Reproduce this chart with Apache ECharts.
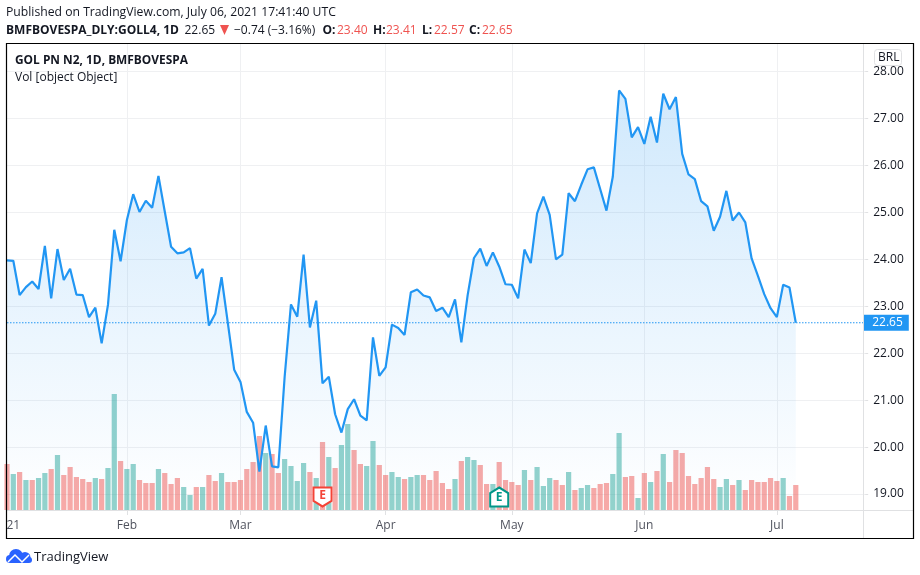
<!DOCTYPE html>
<html>
<head>
<meta charset="utf-8">
<title>GOLL4</title>
<style>
html, body { margin: 0; padding: 0; background: #fff; }
#chart { width: 920px; height: 575px; }
</style>
<script src="https://cdn.jsdelivr.net/npm/echarts@6/dist/echarts.min.js"></script>
</head>
<body>
<div id="chart"></div>
<script>
// trading days of 2021, month-day
var tradingDays = [
    '01-04','01-05','01-06','01-07','01-08','01-11','01-12','01-13','01-14','01-15','01-18','01-19','01-20','01-21','01-22','01-26','01-27','01-28','01-29',
    '02-01','02-02','02-03','02-04','02-05','02-08','02-09','02-10','02-11','02-12','02-17','02-18','02-19','02-22','02-23','02-24','02-25','02-26','03-01',
    '03-02','03-03','03-04','03-05','03-08','03-09','03-10','03-11','03-12','03-15','03-16','03-17','03-18','03-19','03-22','03-23','03-24','03-25','03-26','03-29','03-30','03-31',
    '04-01','04-05','04-06','04-07','04-08','04-09','04-12','04-13','04-14','04-15','04-16','04-19','04-20','04-22','04-23','04-26','04-27','04-28','04-29','04-30',
    '05-03','05-04','05-05','05-06','05-07','05-10','05-11','05-12','05-13','05-14','05-17','05-18','05-19','05-20','05-21','05-24','05-25','05-26','05-27','05-28','05-31',
    '06-01','06-02','06-04','06-07','06-08','06-09','06-10','06-11','06-14','06-15','06-16','06-17','06-18','06-21','06-22','06-23','06-24','06-25','06-28','06-29','06-30',
    '07-01','07-02','07-05','07-06'
];
// empty room on the right of the last bar
var futureDays = ['f1','f2','f3','f4','f5','f6','f7','f8','f9','f10','f11'];
var categories = tradingDays.concat(futureDays);

var closes = [
    23.98,23.97,23.24,23.41,23.53,23.37,24.29,23.17,24.22,23.56,23.80,23.25,23.24,22.77,22.97,22.21,23.03,24.63,23.96,
    24.84,25.39,25.01,25.25,25.10,25.78,25.02,24.27,24.13,24.15,24.24,23.59,23.80,22.59,22.84,23.62,22.64,21.65,21.39,
    20.75,20.52,19.48,20.46,19.59,19.57,21.50,23.04,22.78,24.10,22.55,23.12,21.36,21.50,20.70,20.31,20.81,21.02,20.67,20.57,22.34,21.52,
    21.70,22.61,22.54,22.39,23.30,23.36,23.23,23.19,22.90,22.97,22.77,23.15,22.23,23.24,24.03,24.23,23.86,24.15,23.85,23.47,
    23.46,23.17,24.21,23.92,24.98,25.34,24.95,24.00,24.10,25.41,25.24,25.59,25.92,25.96,25.50,25.04,25.76,27.60,27.42,26.60,26.82,
    26.46,27.04,26.49,27.53,27.20,27.46,26.25,25.81,25.71,25.24,25.13,24.61,24.91,25.46,24.83,25.00,24.79,24.02,23.65,23.26,22.96,
    22.77,23.46,23.40,22.65
];

// volume in millions of shares (estimated)
var volumes = [
    9.2,7.2,7.6,6.0,6.0,6.4,7.4,8.2,11.0,7.0,8.6,6.6,6.2,5.6,6.4,6.2,8.4,23.2,9.8,
    8.2,9.2,6.0,5.4,5.4,8.2,7.4,5.2,6.4,4.6,3.0,4.6,4.6,7.0,5.8,7.4,5.6,5.6,6.0,
    8.2,9.6,14.8,11.4,11.2,7.4,10.2,8.8,5.8,9.4,7.6,6.4,13.6,10.6,8.4,13.0,17.2,12.0,9.2,8.8,13.8,9.0,
    7.0,7.6,6.6,6.2,6.6,7.0,7.0,6.0,7.8,5.4,4.2,6.2,9.8,10.6,10.0,9.0,5.2,5.2,9.6,6.0,
    5.6,5.0,8.0,6.0,8.6,4.8,6.4,6.0,5.0,7.6,4.0,4.4,5.0,4.4,5.2,5.4,7.2,15.4,6.6,6.8,2.4,
    7.4,5.6,7.8,11.2,5.6,12.0,11.4,6.8,5.2,6.4,8.6,6.2,4.6,6.2,5.0,6.0,4.0,6.0,5.6,5.6,6.4,
    5.8,6.4,2.8,5.0
];
// 1 = green bar, 0 = red bar
var volumeUp = [
    0,1,0,1,0,1,1,0,1,0,0,0,0,0,1,0,1,1,0,
    1,1,0,0,0,1,0,0,0,1,1,0,1,0,0,1,0,0,0,
    0,0,0,1,0,0,1,1,1,1,0,1,0,1,0,1,1,0,0,1,1,0,
    0,1,1,0,1,1,0,0,0,0,0,1,0,1,1,0,0,1,0,0,
    0,0,1,0,1,1,1,0,0,1,0,1,1,0,0,0,1,1,0,0,1,
    0,1,0,1,0,0,0,0,0,0,0,0,1,1,0,1,0,0,0,0,0,
    0,1,0,0
];

var priceTicks = [19, 20, 21, 22, 23, 24, 25, 26, 27, 28];
var lastPrice = 22.65;

var monthDays = ['02-01','03-01','04-01','05-03','06-01','07-01'];
var monthTexts = ['Feb','Mar','Apr','May','Jun','Jul'];
// the year label is cut by the frame in the original, only "21" shows
var yearDay = '01-05';
var yearText = '21';

var earningsDown = ['03-18'];
var earningsUp = ['04-29'];

var FONT = '"Open Sans", "Noto Sans", sans-serif';
var TEXT = '#131722';
var RED = '#ef5350';
var BLUE = '#2196f3';
var GRID = '#eff0f2';
var EDGE = '#e0e1e3';
var LOGO = '#2962ff';

var volumeData = volumes.map(function(v, i) {
    return {
        value: v,
        itemStyle: { color: volumeUp[i] ? 'rgba(38,166,154,0.5)' : 'rgba(239,83,80,0.5)' }
    };
});

function isMonth(index, value) {
    return monthDays.indexOf(value) >= 0;
}

function txt(x, y, text, color, weight, size) {
    return {
        type: 'text',
        x: x,
        y: y,
        z: 20,
        style: {
            text: text,
            fill: color || TEXT,
            font: (weight || 'normal') + ' ' + (size || 12) + 'px ' + FONT,
            verticalAlign: 'middle'
        }
    };
}

var myChart = echarts.init(document.getElementById('chart'));

var option = {
    animation: false,
    backgroundColor: '#fff',
    grid: { left: 7, top: 44, width: 858.2, height: 466 },
    xAxis: {
        type: 'category',
        data: categories,
        boundaryGap: false,
        axisLine: { show: false },
        axisTick: { show: true, length: 5, interval: isMonth, lineStyle: { color: EDGE } },
        axisLabel: {
            interval: function(index, value) {
                return isMonth(index, value) || value === yearDay;
            },
            formatter: function(value) {
                if (value === yearDay) return yearText;
                return monthTexts[monthDays.indexOf(value)];
            },
            color: '#50535e',
            fontFamily: FONT,
            fontSize: 12,
            margin: 10,
            hideOverlap: false
        },
        splitLine: { show: true, interval: isMonth, lineStyle: { color: GRID, width: 1 } }
    },
    yAxis: [
        {
            type: 'value',
            position: 'right',
            min: 18.66,
            max: 28.59,
            axisLine: { show: false },
            axisTick: { show: true, length: 3, customValues: priceTicks, lineStyle: { color: EDGE } },
            axisLabel: {
                customValues: priceTicks,
                formatter: function(v) { return v.toFixed(2); },
                color: TEXT,
                fontFamily: FONT,
                fontSize: 12,
                margin: 8,
                padding: [4, 0, 0, 0]
            },
            splitLine: { show: true, lineStyle: { color: GRID, width: 1 } }
        },
        {
            type: 'value',
            min: 0,
            max: 93.2,
            show: false,
            splitLine: { show: false }
        }
    ],
    series: [
        {
            name: 'Vol',
            type: 'bar',
            yAxisIndex: 1,
            barWidth: 5.2,
            data: volumeData
        },
        {
            name: 'GOLL4',
            type: 'line',
            yAxisIndex: 0,
            data: closes,
            symbol: 'none',
            lineStyle: { color: BLUE, width: 2.2 },
            areaStyle: {
                origin: 'start',
                color: new echarts.graphic.LinearGradient(0, 0, 0, 1, [
                    { offset: 0, color: 'rgba(33,150,243,0.30)' },
                    { offset: 1, color: 'rgba(33,150,243,0)' }
                ])
            }
        },
        {
            // last price level, dotted across the plot with its tag on the axis
            name: 'Last',
            type: 'line',
            yAxisIndex: 0,
            data: categories.map(function() { return lastPrice; }),
            symbol: 'none',
            silent: true,
            z: 4,
            lineStyle: { color: BLUE, type: [1.5, 1.5], width: 1 },
            endLabel: {
                show: true,
                distance: -2,
                formatter: lastPrice.toFixed(2),
                backgroundColor: BLUE,
                color: '#fff',
                fontFamily: FONT,
                fontSize: 12,
                padding: [2, 6, 2, 9]
            }
        },
        {
            name: 'Earnings down',
            type: 'scatter',
            yAxisIndex: 1,
            z: 5,
            symbol: 'path://M0 0H19V14L9.5 20L0 14Z',
            symbolSize: [18, 19],
            itemStyle: { color: '#fff', borderColor: '#f44336', borderWidth: 2, opacity: 1 },
            label: { show: true, position: 'inside', formatter: 'E', color: '#f44336', fontFamily: FONT, fontSize: 12, fontWeight: 'bold', offset: [0, -1] },
            data: earningsDown.map(function(d) { return [d, 2.6]; })
        },
        {
            name: 'Earnings up',
            type: 'scatter',
            yAxisIndex: 1,
            z: 5,
            symbol: 'path://M9.5 0L19 6V20H0V6Z',
            symbolSize: [18, 19],
            itemStyle: { color: '#fff', borderColor: '#009688', borderWidth: 2, opacity: 1 },
            label: { show: true, position: 'inside', formatter: 'E', color: '#009688', fontFamily: FONT, fontSize: 12, fontWeight: 'bold', offset: [0, 1] },
            data: earningsUp.map(function(d) { return [d, 2.6]; })
        }
    ],
    graphic: [
        // frame and the two axis separators
        { type: 'line', z: 10, shape: { x1: 7, y1: 510.5, x2: 913, y2: 510.5 }, style: { stroke: EDGE, lineWidth: 1 } },
        { type: 'line', z: 10, shape: { x1: 863.5, y1: 44, x2: 863.5, y2: 538 }, style: { stroke: EDGE, lineWidth: 1 } },
        { type: 'rect', z: 15, shape: { x: 6.5, y: 43.5, width: 907, height: 495 }, style: { fill: 'none', stroke: '#000', lineWidth: 1.2 } },

        // header
        txt(6, 13, 'Published on TradingView.com, July 06, 2021 17:41:40 UTC', TEXT, 'normal', 12.2),
        txt(6, 30.5, 'BMFBOVESPA_DLY:GOLL4, 1D', TEXT, 'bold'),
        txt(184.5, 30.5, '22.65'),
        { type: 'polygon', z: 20, shape: { points: [[220, 25], [229, 25], [224.5, 35]] }, style: { fill: RED } },
        txt(234, 30.5, '\u22120.74 (\u22123.16%)'),
        txt(322.5, 30.5, 'O:', TEXT, 'bold'),
        txt(337, 30.5, '23.40', RED),
        txt(373, 30.5, 'H:', TEXT, 'bold'),
        txt(386, 30.5, '23.41', RED),
        txt(422, 30.5, 'L:', TEXT, 'bold'),
        txt(434, 30.5, '22.57', RED),
        txt(469, 30.5, 'C:', TEXT, 'bold'),
        txt(482, 30.5, '22.65', RED),

        // legend inside the plot
        txt(15, 61, 'GOL PN N2, 1D, BMFBOVESPA', TEXT, 'bold', 11.9),
        txt(15, 78, 'Vol [object Object]'),

        // currency tag
        { type: 'rect', z: 18, shape: { x: 874.5, y: 49.5, width: 27, height: 16, r: 3 }, style: { fill: '#fff', stroke: EDGE, lineWidth: 1 } },
        txt(878, 58, 'BRL'),

        // footer logo
        { type: 'circle', z: 20, shape: { cx: 16, cy: 556, r: 7 }, style: { fill: LOGO } },
        { type: 'circle', z: 20, shape: { cx: 25, cy: 557.5, r: 5.5 }, style: { fill: LOGO } },
        { type: 'circle', z: 20, shape: { cx: 10, cy: 559, r: 4 }, style: { fill: LOGO } },
        { type: 'circle', z: 20, shape: { cx: 29, cy: 560, r: 3 }, style: { fill: LOGO } },
        { type: 'rect', z: 20, shape: { x: 10, y: 558, width: 19, height: 5 }, style: { fill: LOGO } },
        { type: 'polyline', z: 21, shape: { points: [[8, 562], [15, 555], [22, 562], [29, 555]] }, style: { stroke: '#fff', fill: 'none', lineWidth: 1.5 } },
        txt(34, 557, 'TradingView', TEXT, 'normal', 13)
    ]
};

myChart.setOption(option);
</script>
</body>
</html>
